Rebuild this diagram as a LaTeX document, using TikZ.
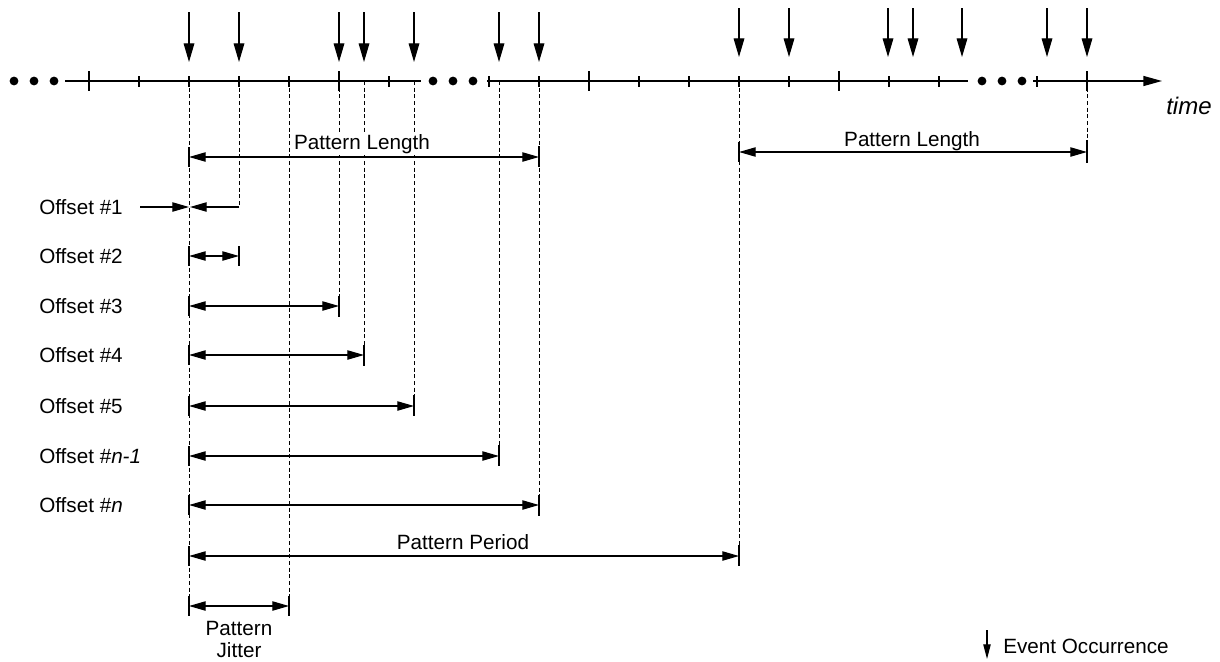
\documentclass[tikz,border=0pt]{standalone}
\usepackage{fontspec}
\setmainfont{Liberation Sans}
\usetikzlibrary{arrows.meta}
\begin{document}
\begin{tikzpicture}[x=0.75pt,y=-0.75pt,
  axisline/.style={line width=1pt},
  evt/.style={line width=0.9pt,-{Triangle[length=14pt,width=8pt]}},
  dimtip/.style={line width=0.9pt,-{Triangle[length=12.5pt,width=7pt]}},
  dimline/.style={line width=0.9pt,{Triangle[length=12.5pt,width=7pt]}-{Triangle[length=12.5pt,width=7pt]}},
  guide/.style={line width=0.6pt,dash pattern=on 3pt off 2pt},
  ext/.style={line width=0.8pt},
  lbl/.style={inner sep=0pt,font=\fontsize{15.5}{18}\selectfont}]

\useasboundingbox (0,0) rectangle (1220,661);

% dots
\foreach \x in {14,34,54,433,453,473,982,1002,1022}
  \fill (\x,81) circle[radius=3.3pt];

% axis
\draw[axisline] (65,81) -- (421,81);
\draw[axisline] (487,81) -- (968,81);
\coordinate (axend) at (1162,81);
\draw[axisline,-{Triangle[length=14pt,width=7.5pt]}] (1033,81) -- (axend);
\node[inner sep=0pt,font=\fontsize{18}{20}\selectfont,anchor=base west] (time) at (1166,114) {\itshape time};

% ticks
\foreach \x in {139,189,239,289,389,489,539,639,689,739,789,889,939,1037}
  \draw[axisline] (\x,76) -- (\x,87);
\foreach \x in {89,339,589,839,1087}
  \draw[axisline] (\x,71) -- (\x,91);

% event arrows
\foreach \x in {189,239,339,364,414,499,539}
  \draw[evt] (\x,12) -- (\x,62);
\foreach \x in {739,789,888,913,962,1047,1087}
  \draw[evt] (\x,8) -- (\x,57);

% guide lines
\draw[guide] (189,81) -- (189,616);
\draw[guide] (239,81) -- (239,207);
\draw[guide] (289,81) -- (289,596);
\draw[guide] (339,81) -- (339,296);
\draw[guide] (364,81) -- (364,345);
\draw[guide] (414,81) -- (414,395);
\draw[guide] (499,81) -- (499,445);
\draw[guide] (539,81) -- (539,495);
\draw[guide] (739,81) -- (739,545);
\draw[guide] (1087,81) -- (1087,140);

% solid extension pieces
\foreach \y in {157,256,306,355,406,456,505,556,606}
  \draw[ext] (189,\y-10) -- (189,\y+10);
\draw[ext] (239,246) -- (239,266);
\draw[ext] (289,596) -- (289,616);
\draw[ext] (339,296) -- (339,317);
\draw[ext] (364,345) -- (364,366);
\draw[ext] (414,395) -- (414,416);
\draw[ext] (499,445) -- (499,466);
\draw[ext] (539,495) -- (539,516);
\draw[ext] (539,146) -- (539,167);
\draw[ext] (739,545) -- (739,566);
\draw[ext] (739,142) -- (739,162);
\draw[ext] (1087,140) -- (1087,163);

% Pattern Length (left)
\coordinate (plA) at (189,157);
\coordinate (plB) at (539,157);
\node[lbl,anchor=base,fill=white,inner sep=1.5pt] (pl1) at (362,149) {Pattern Length};
\draw[dimline] (plA) -- (plB);

% Pattern Length (right)
\coordinate (prA) at (739,152);
\coordinate (prB) at (1087,152);
\draw[dimline] (prA) -- (prB);
\node[lbl,anchor=base] (pl2) at (912,146) {Pattern Length};

% Offsets
\node[lbl,anchor=west] (o1) at (39,207) {Offset \#1};
\node[lbl,anchor=west] (o2) at (39,256) {Offset \#2};
\node[lbl,anchor=west] (o3) at (39,306) {Offset \#3};
\node[lbl,anchor=west] (o4) at (39,355) {Offset \#4};
\node[lbl,anchor=west] (o5) at (39,406) {Offset \#5};
\node[lbl,anchor=west] (on1) at (39,456) {Offset \#\textit{n-1}};
\node[lbl,anchor=west] (on) at (39,505) {Offset \#\textit{n}};

\coordinate (o1a) at (140,207);
\coordinate (o1b) at (189,207);
\coordinate (o1c) at (239,207);
\coordinate (o1d) at (190,207);
\draw[dimtip] (o1a) -- (o1b);
\draw[dimtip] (o1c) -- (o1d);

\draw[dimline] (189,256) -- (239,256);
\draw[dimline] (189,306) -- (339,306);
\draw[dimline] (189,355) -- (364,355);
\draw[dimline] (189,406) -- (414,406);
\draw[dimline] (189,456) -- (499,456);
\draw[dimline] (189,505) -- (539,505);

% Pattern Period
\draw[dimline] (189,556) -- (739,556);
\node[lbl,anchor=base] (pp) at (463,549) {Pattern Period};

% Pattern Jitter
\draw[dimline] (189,606) -- (289,606);
\node[lbl,anchor=north,align=center,font=\fontsize{15.5}{16.5}\selectfont] (pj) at (239,621) {Pattern\\Jitter};

% legend
\coordinate (lgA) at (987,630);
\coordinate (lgB) at (987,659);
\draw[line width=0.9pt,-{Triangle[length=11pt,width=5.5pt]}] (lgA) -- (lgB);
\node[lbl,anchor=base west] (lg) at (1003,653) {Event Occurrence};

\end{tikzpicture}
\end{document}
